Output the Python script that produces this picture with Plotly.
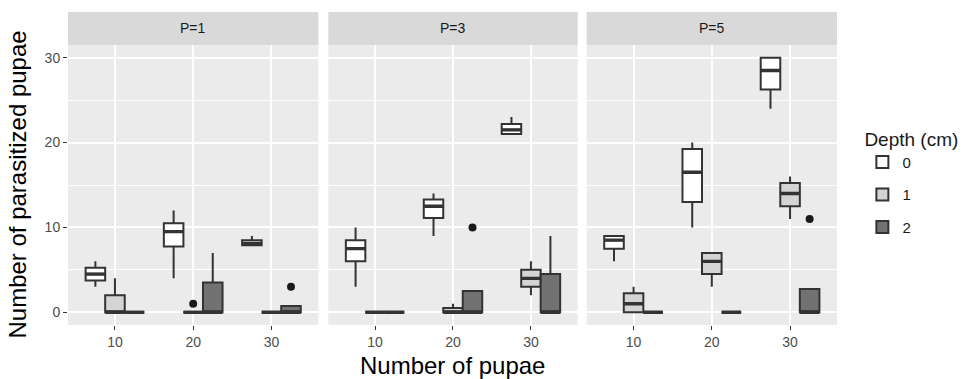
import plotly.graph_objects as go

panels = ["P=1", "P=3", "P=5"]
depths = ["0", "1", "2"]
pupae = [10, 20, 30]

# values indexed [panel][depth][pupae]
lower = [
    [[3, 4, 7.9], [0, 0, 0], [0, 0, 0]],
    [[3, 9, 21], [0, 0, 2], [0, 0, 0]],
    [[6, 10, 24], [0, 3, 11], [0, 0, 0]],
]
q1 = [
    [[3.75, 7.75, 7.9], [0, 0, 0], [0, 0, 0]],
    [[6, 11.1, 21], [0, 0, 3], [0, 0, 0]],
    [[7.5, 13, 26.25], [0, 4.5, 12.5], [0, 0, 0]],
]
median = [
    [[4.5, 9.5, 8.1], [0, 0, 0], [0, 0, 0]],
    [[7.5, 12.5, 21.5], [0, 0, 4], [0, 0, 0]],
    [[8.5, 16.5, 28.5], [1, 6, 14], [0, 0, 0]],
]
q3 = [
    [[5.25, 10.5, 8.5], [2, 0, 0], [0, 3.5, 0.75]],
    [[8.5, 13.3, 22.2], [0, 0.5, 5], [0, 2.5, 4.5]],
    [[9, 19.25, 30], [2.25, 7, 15.25], [0, 0, 2.75]],
]
upper = [
    [[6, 12, 9], [4, 0, 0], [0, 7, 0.75]],
    [[10, 14, 23], [0, 1, 6], [0, 2.5, 9]],
    [[9, 20, 30], [3, 7, 16], [0, 0, 2.75]],
]

outlier_panel = [0, 0, 1, 2]
outlier_depth = [1, 2, 2, 2]
outlier_pupae = [20, 30, 20, 30]
outlier_value = [1, 3, 10, 11]

y_ticks = [0, 10, 20, 30]
y_minor = [5, 15, 25]

fills = ["#ffffff", "#d4d4d4", "#727272"]
line_col = "#333333"
FONT = "Liberation Sans, Arial, sans-serif"

BOXGAP = 0.25
spacing = pupae[1] - pupae[0]
step = spacing * (1 - BOXGAP) / len(depths)

fig = go.Figure()

domains = [[0.0, 0.3256], [0.3385, 0.6628], [0.6744, 1.0]]

for p in range(len(panels)):
    xa = "x" if p == 0 else f"x{p+1}"
    ya = "y" if p == 0 else f"y{p+1}"
    for d in range(len(depths)):
        fig.add_trace(go.Box(
            x=pupae,
            q1=q1[p][d], median=median[p][d], q3=q3[p][d],
            lowerfence=lower[p][d], upperfence=upper[p][d],
            name=depths[d], legendgroup=depths[d], showlegend=(p == 0),
            offsetgroup=depths[d],
            fillcolor=fills[d],
            line=dict(color=line_col, width=2),
            whiskerwidth=0,
            xaxis=xa, yaxis=ya,
            hoverinfo="skip",
        ))
    # thicker median bars (ggplot style), centred on each dodged box
    mx, my = [], []
    for d in range(len(depths)):
        for c in range(len(pupae)):
            centre = pupae[c] + (d - 1) * step
            mx += [centre - step / 2, centre + step / 2, None]
            my += [median[p][d][c], median[p][d][c], None]
    fig.add_trace(go.Scatter(
        x=mx, y=my, mode="lines",
        line=dict(color=line_col, width=3.4),
        showlegend=False, xaxis=xa, yaxis=ya, hoverinfo="skip",
    ))
    ox = [outlier_pupae[i] + (outlier_depth[i] - 1) * step
          for i in range(len(outlier_value)) if outlier_panel[i] == p]
    oy = [outlier_value[i] for i in range(len(outlier_value)) if outlier_panel[i] == p]
    fig.add_trace(go.Scatter(
        x=ox, y=oy, mode="markers",
        marker=dict(color="#1a1a1a", size=8),
        showlegend=False, xaxis=xa, yaxis=ya, hoverinfo="skip",
    ))

layout = dict(
    width=972, height=379,
    margin=dict(l=68, r=127, t=45, b=54),
    paper_bgcolor="white", plot_bgcolor="#ebebeb",
    boxmode="group", boxgap=BOXGAP, boxgroupgap=0,
    font=dict(family=FONT, color="#1a1a1a"),
    legend=dict(
        title=dict(text="Depth (cm)", font=dict(size=19, color="#1a1a1a")),
        font=dict(size=15, color="#1a1a1a"),
        x=1.033, xanchor="left", y=0.728, yanchor="top",
        tracegroupgap=10, bgcolor="rgba(0,0,0,0)",
    ),
    showlegend=True,
)

shapes = []
annotations = []
strip_top = 1 + 33 / 280
for p in range(len(panels)):
    suffix = "" if p == 0 else str(p + 1)
    layout["xaxis" + suffix] = dict(
        domain=domains[p], anchor="y" + suffix,
        range=[pupae[0] - 0.6 * spacing, pupae[-1] + 0.6 * spacing],
        tickvals=pupae, ticktext=[str(v) for v in pupae],
        showgrid=True, gridcolor="white", gridwidth=1.6,
        zeroline=False, showline=False,
        ticks="outside", ticklen=4, tickcolor=line_col, tickwidth=1.2,
        tickfont=dict(size=14, color="#4d4d4d"),
        fixedrange=True, automargin=False,
    )
    layout["yaxis" + suffix] = dict(
        domain=[0, 1], anchor="x" + suffix,
        range=[-1.5, 31.5],
        tickvals=y_ticks, ticktext=[str(v) for v in y_ticks],
        showticklabels=(p == 0),
        ticks="outside" if p == 0 else "", ticklen=4, tickcolor=line_col, tickwidth=1.2,
        tickfont=dict(size=14, color="#4d4d4d"),
        showgrid=True, gridcolor="white", gridwidth=1.6,
        minor=dict(tickvals=y_minor, showgrid=True, gridcolor="white", gridwidth=0.8, ticks=""),
        zeroline=False, showline=False,
        fixedrange=True, automargin=False,
    )
    if p > 0:
        layout["yaxis" + suffix]["matches"] = "y"
    shapes.append(dict(
        type="rect", xref="x" + suffix + " domain", yref="paper",
        x0=0, x1=1, y0=1, y1=strip_top,
        fillcolor="#d9d9d9", line=dict(width=0), layer="below",
    ))
    annotations.append(dict(
        text=panels[p], xref="x" + suffix + " domain", yref="paper",
        x=0.5, y=(1 + strip_top) / 2, xanchor="center", yanchor="middle",
        showarrow=False, font=dict(size=14, color="#1a1a1a"),
    ))

annotations.append(dict(
    text="Number of pupae", xref="paper", yref="paper",
    x=0.5, y=(325 - 365) / 280, xanchor="center", yanchor="middle",
    showarrow=False, font=dict(size=24, color="black"),
))
annotations.append(dict(
    text="Number of parasitized pupae", xref="paper", yref="paper",
    x=(16 - 68) / 777, y=0.5, xanchor="center", yanchor="middle",
    textangle=-90, showarrow=False, font=dict(size=24, color="black"),
))

layout["shapes"] = shapes
layout["annotations"] = annotations
fig.update_layout(**layout)

fig.write_html(
    "out.html",
    config={"displayModeBar": False},
    post_script="document.body.style.margin='0';document.body.style.padding='0';",
)
